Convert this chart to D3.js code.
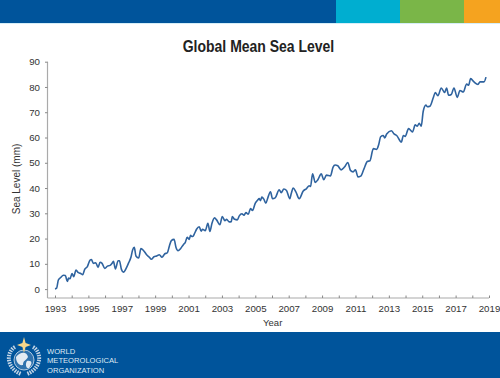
<!DOCTYPE html>
<html>
<head>
<meta charset="utf-8">
<script src="https://cdn.jsdelivr.net/npm/d3@7"></script>
<style>
    html, body { margin: 0; padding: 0; background: #fff; }
    svg { display: block; font-family: "Liberation Sans", Arial, sans-serif; }
</style>
</head>
<body>
<div id="chart"></div>
<script>
// Global Mean Sea Level line chart

// Pt. 0 - DATA

const years = [1993.0,1993.1,1993.2,1993.34,1993.5,1993.62,1993.74,1993.82,1993.9,1994.02,1994.12,1994.26,1994.4,1994.54,1994.66,1994.78,1994.94,
    1995.1,1995.18,1995.3,1995.44,1995.58,1995.7,1995.82,1995.98,1996.14,1996.3,1996.42,1996.5,1996.62,1996.78,1996.86,1996.98,
    1997.1,1997.29,1997.41,1997.55,1997.65,1997.75,1997.85,1998.01,1998.15,1998.31,1998.49,1998.65,1998.77,1998.93,
    1999.09,1999.25,1999.41,1999.57,1999.73,1999.85,1999.97,2000.13,2000.25,2000.37,2000.53,2000.69,2000.8,2000.92,
    2001.04,2001.12,2001.2,2001.28,2001.36,2001.48,2001.64,2001.76,2001.84,2002.0,2002.16,2002.28,2002.4,2002.56,2002.68,2002.88,
    2003.02,2003.18,2003.28,2003.44,2003.56,2003.62,2003.76,2003.92,2004.04,2004.2,2004.32,2004.44,2004.58,2004.71,2004.83,
    2005.0,2005.15,2005.23,2005.31,2005.39,2005.51,2005.63,2005.75,2005.91,2006.03,2006.19,2006.43,2006.55,2006.71,2006.87,
    2007.07,2007.15,2007.27,2007.43,2007.63,2007.87,2008.07,2008.23,2008.31,2008.43,2008.59,2008.75,2008.95,
    2009.1,2009.26,2009.5,2009.66,2009.78,2009.94,2010.14,2010.34,2010.54,2010.7,2010.86,2011.0,2011.15,2011.31,2011.51,2011.71,2011.87,
    2012.07,2012.27,2012.39,2012.51,2012.67,2012.75,2012.87,2013.15,2013.31,2013.47,2013.75,2013.87,2013.98,
    2014.18,2014.42,2014.58,2014.7,2014.82,2014.94,2015.06,2015.22,2015.3,2015.46,2015.66,2015.78,2015.94,
    2016.14,2016.34,2016.46,2016.58,2016.74,2016.9,2017.1,2017.26,2017.46,2017.66,2017.78,2017.9,2018.1,2018.34,2018.46,2018.7,2018.82];

const levels = [0.1,0.4,3.6,4.6,5.5,5.4,3.0,4.4,4.1,6.2,4.9,7.5,6.5,6.2,5.7,7.8,8.9,
    11.5,11.7,10.2,10.4,8.6,10.6,10.2,8.2,9.1,9.4,10.2,11,8,11.2,11.2,7.8,
    6.7,8.6,10.4,12.6,15.5,16.5,13.1,12.3,16,15.2,13.6,12.6,11.8,12.8,
    13.1,13.6,12.6,13.9,14.4,17,19.2,19.7,16.5,15.2,16.1,17.6,18.4,20.5,
    19.7,21.3,20.8,21,22,23.7,24.7,22.9,23.7,23.1,26,22.8,26,28.2,27.4,25.5,
    28.7,27.1,27.6,26.6,26.7,28.7,27.6,27.4,29,29.8,29.2,30.3,29.6,31.9,31.1,
    34,35.3,35.8,35,36.4,35.6,34,36.1,38.5,35.8,36.1,39.3,38.2,39.6,39,
    35.8,37.7,40,38.5,35.8,38.8,39.8,40.9,40.6,45.6,42.2,43.3,45.6,
    43.3,45.1,44.8,48.3,49.1,48.8,47.2,48.3,50.1,47,46.4,47.2,44.4,44.7,47.6,50.5,50.8,
    55.6,55.3,57.1,60.3,60.8,59.8,61.4,62.7,61.4,60.8,58.2,60.8,60.4,
    63.5,62.2,65,64.5,65.6,64.5,70.4,72.8,72.2,72.4,75.7,77.8,76.5,
    79.6,77.8,79.6,76.7,77,79.6,75.9,78.6,78,81.2,80.7,83.3,82,81,82,82,83.9];

const yTicks = [0,10,20,30,40,50,60,70,80,90];
const xLabels = d3.range(1993, 2020, 2);
const xMinor = d3.range(1993, 2020, 1);

const bandColors = ["#00549b","#00aed0","#7ab648","#f5a31f"];
const bandStops = [0,336,400,464,500];
const orgName = ["WORLD","METEOROLOGICAL","ORGANIZATION"];

// Pt. 1 - TYPE SETTING

const width = 500,
      height = 378,
      margin = ({ top: 61.7, right: 11, bottom: 88.9, left: 55 });

let svg = d3.select("#chart")
    .append("svg")
    .attr("width", width)
    .attr("height", height)
    .attr("viewBox", [0, 0, width, height]);

let x = d3.scaleLinear()
    .domain([1993, 2019])
    .range([margin.left, width - margin.right]);

let y = d3.scaleLinear()
    .domain([0, 90])
    .range([height - margin.bottom, margin.top]);

// Pt. 2 - HEADER AND FOOTER BANDS

svg.append("g").selectAll("rect")
    .data(bandColors)
    .join("rect")
    .attr("x", (d, i) => bandStops[i])
    .attr("y", 0)
    .attr("width", (d, i) => bandStops[i + 1] - bandStops[i])
    .attr("height", 23)
    .attr("fill", d => d);

svg.append("rect")  // pale edge under the top band
    .attr("y", 23)
    .attr("width", width)
    .attr("height", 1)
    .attr("fill", "#d5eef8");

svg.append("rect")
    .attr("y", 332)
    .attr("width", width)
    .attr("height", 46)
    .attr("fill", "#00549b");

svg.append("text")
    .text("Global Mean Sea Level")
    .attr("x", 258.5)
    .attr("y", 52)
    .attr("text-anchor", "middle")
    .attr("textLength", 151.5)
    .attr("lengthAdjust", "spacingAndGlyphs")
    .style("font-weight", "bold")
    .style("font-size", "16.5px")
    .style("fill", "#222");

// Pt. 3 - AXES

let xAxis = svg.append("g")
    .attr("transform", "translate(0, 298)")
    .call(d3.axisBottom(x).tickValues(xMinor).tickSize(-2.5)
        .tickFormat(d => xLabels.includes(d) ? d : ""));

let yAxis = svg.append("g")
    .attr("transform", "translate(47.5, 0)")
    .call(d3.axisLeft(y).tickValues(yTicks).tickSize(2.5).tickPadding(5));

xAxis.select(".domain").attr("d", `M47.5,0H${x(2019)}`);
yAxis.select(".domain").attr("d", `M0,${y(90)}V298`);

for (let axis of [xAxis, yAxis]) {
    axis.selectAll(".domain").attr("stroke", "#aaa").attr("stroke-width", 1.2);
    axis.selectAll(".tick line").attr("stroke", "#888");
    axis.selectAll("text").style("font-size", "9.7px").style("fill", "#333");
}
xAxis.selectAll("text").attr("y", 7);

svg.append("text")
    .text("Year")
    .attr("x", 272.7)
    .attr("y", 325.5)
    .attr("text-anchor", "middle")
    .style("font-size", "9.5px")
    .style("fill", "#333");

svg.append("text")
    .text("Sea Level (mm)")
    .attr("transform", "translate(20, 179) rotate(-90)")
    .attr("text-anchor", "middle")
    .style("font-size", "10px")
    .style("fill", "#333");

// Pt. 4 - THE LINE

let line = d3.line()
    .x(d => x(d))
    .y((d, i) => y(levels[i]))
    .curve(d3.curveMonotoneX);

svg.append("path")
    .attr("d", line(years))
    .attr("fill", "none")
    .attr("stroke", "#2f639f")
    .attr("stroke-width", 1.6)
    .attr("stroke-linejoin", "round");

// Pt. 5 - LOGO AND NAME

let logo = svg.append("g")
    .attr("transform", "translate(24, 360)");

// wreath
logo.append("path")
    .attr("d", "M-9,-13C-18,-8 -18,8 -3,14M9,-13C18,-8 18,8 3,14")
    .attr("fill", "none")
    .attr("stroke", "#c3d5e6")
    .attr("stroke-width", 4)
    .attr("stroke-dasharray", "1.5 1");

// globe
logo.append("circle")
    .attr("r", 10)
    .attr("fill", "#2f72ad")
    .attr("stroke", "#d5e2ee")
    .attr("stroke-width", 0.8);
logo.append("path")
    .attr("d", "M-8,-3C-3,-9 3,-8 4,-3C2,1 -1,0 -1,5C-5,6 -8,2 -8,-3ZM3,1C8,0 9,3 5,8C2,9 1,4 3,1Z")
    .attr("fill", "#e3ebf3");

// star
logo.append("path")
    .attr("d", "M0,-23L1.6,-17L7,-15L1.6,-13L0,-7L-1.6,-13L-7,-15L-1.6,-17Z")
    .attr("fill", "#f7d68a");

svg.append("g").selectAll("text")
    .data(orgName)
    .join("text")
    .text(d => d)
    .attr("x", 47)
    .attr("y", (d, i) => 354 + i * 9.3)
    .style("font-size", "7.6px")
    .style("fill", "#dfe9f3");
</script>
</body>
</html>
